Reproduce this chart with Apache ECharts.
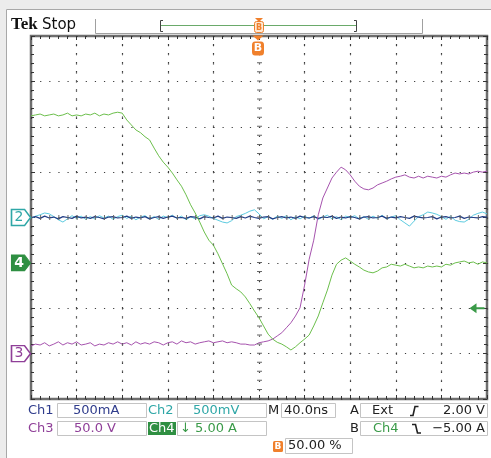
<!DOCTYPE html>
<html><head><meta charset="utf-8">
<script src="https://cdn.jsdelivr.net/npm/echarts@6/dist/echarts.min.js"></script>
<style>html,body{margin:0;padding:0;background:#fff}#c{width:491px;height:458px}</style>
</head><body><div id="c"></div>
<script>
// Sample times (ns), 40 ns/div, trigger at 0
const timeNs = [-200,-196,-192,-188,-184,-180,-176,-172,-168,-164,
-160,-156,-152,-148,-144,-140,-136,-132,-128,-124,
-120,-116,-112,-108,-104,-100,-96,-92,-88,-84,
-80,-76,-72,-68,-64,-60,-56,-52,-48,-44,
-40,-36,-32,-28,-24,-20,-16,-12,-8,-4,
0,4,8,12,16,20,24,28,32,36,
40,44,48,52,56,60,64,68,72,76,
80,84,88,92,96,100,104,108,112,116,
120,124,128,132,136,140,144,148,152,156,
160,164,168,172,176,180,184,188,192,196,200];

// Trace positions in screen divisions (centre = 0)
const ch1Div = [0.00,0.02,-0.02,0.03,-0.01,0.01,-0.03,0.02,0.00,-0.02,
0.03,-0.01,0.01,-0.02,0.02,0.00,-0.03,0.01,0.02,-0.01,
0.00,0.03,-0.02,0.01,-0.01,0.02,-0.03,0.00,0.02,-0.02,
0.01,0.03,-0.01,0.00,-0.02,0.02,0.01,-0.03,0.02,0.00,
-0.01,0.03,-0.02,0.01,0.00,-0.02,0.02,-0.01,0.03,0.00,
-0.02,0.01,0.02,-0.03,0.00,0.02,-0.01,0.01,-0.02,0.03,
0.00,-0.01,0.02,-0.02,0.01,0.00,0.03,-0.02,0.01,-0.01,
0.02,0.00,-0.03,0.01,0.02,-0.01,0.00,0.03,-0.02,0.01,
-0.01,0.02,0.00,-0.02,0.03,0.01,-0.01,0.00,0.02,-0.03,
0.01,0.02,-0.01,0.00,0.03,-0.02,0.01,0.00,-0.01,0.02,0.01];

const ch2Div = [-0.02,0.03,0.06,0.10,0.08,0.02,-0.05,-0.10,-0.03,0.04,
-0.02,0.03,-0.04,0.02,-0.03,0.04,-0.01,0.03,-0.04,0.02,
0.05,-0.02,0.03,-0.05,0.01,0.04,-0.03,0.02,-0.04,0.03,
0.00,0.05,-0.02,0.03,-0.05,0.02,-0.03,0.04,0.06,0.03,
-0.02,-0.06,-0.10,-0.12,-0.07,0.02,0.05,0.09,0.14,0.17,
0.08,-0.03,0.02,-0.04,0.03,-0.02,0.04,-0.05,0.02,-0.03,
0.03,-0.02,0.04,-0.04,0.01,0.05,-0.03,0.02,-0.05,0.03,
0.00,0.04,-0.03,0.02,-0.04,0.03,-0.02,0.05,-0.03,0.01,
0.04,-0.05,-0.12,-0.19,-0.08,0.02,0.06,0.12,0.10,0.07,
0.02,-0.04,0.03,-0.06,-0.09,-0.10,-0.04,0.05,0.09,0.12,0.08];

const ch3Div = [-2.83,-2.79,-2.81,-2.76,-2.83,-2.79,-2.74,-2.81,-2.76,-2.79,
-2.74,-2.81,-2.79,-2.76,-2.83,-2.79,-2.81,-2.76,-2.79,-2.74,
-2.79,-2.76,-2.81,-2.74,-2.79,-2.76,-2.79,-2.74,-2.76,-2.81,
-2.76,-2.74,-2.79,-2.72,-2.76,-2.74,-2.79,-2.76,-2.74,-2.72,
-2.76,-2.74,-2.72,-2.76,-2.74,-2.76,-2.79,-2.79,-2.81,-2.81,
-2.76,-2.74,-2.72,-2.68,-2.61,-2.54,-2.43,-2.32,-2.17,-1.99,
-1.49,-0.92,-0.50,0.06,0.43,0.65,0.87,1.00,1.11,1.05,
0.94,0.80,0.69,0.63,0.61,0.65,0.72,0.76,0.80,0.85,
0.89,0.91,0.94,0.89,0.87,0.91,0.87,0.91,0.89,0.87,
0.91,0.89,0.94,0.98,0.96,0.98,0.96,1.00,1.02,1.00,1.02];

const ch4Div = [2.24,2.26,2.28,2.24,2.26,2.28,2.24,2.26,2.30,2.24,
2.26,2.24,2.28,2.26,2.30,2.24,2.28,2.26,2.30,2.32,
2.30,2.15,2.04,1.93,1.87,1.78,1.71,1.53,1.36,1.22,
1.11,0.98,0.83,0.69,0.50,0.28,0.10,-0.10,-0.32,-0.50,
-0.61,-0.80,-1.02,-1.24,-1.49,-1.57,-1.64,-1.75,-1.90,-2.06,
-2.21,-2.39,-2.57,-2.68,-2.75,-2.79,-2.85,-2.92,-2.85,-2.76,
-2.68,-2.59,-2.39,-2.17,-1.88,-1.60,-1.27,-1.03,-0.94,-0.89,
-0.96,-1.03,-1.09,-1.16,-1.20,-1.22,-1.18,-1.11,-1.09,-1.03,
-1.05,-1.07,-1.03,-1.07,-1.11,-1.09,-1.11,-1.07,-1.09,-1.07,
-1.09,-1.03,-1.05,-1.00,-0.98,-0.96,-1.00,-0.98,-1.03,-0.98,-1.00];

// Ground / trigger levels (divisions) and axis ranges
const ch2Ground = 0;
const ch4Ground = -1;
const ch3Ground = -3;
const ch4TrigLevel = -2;
const triggerTime = 0;
const timeRange = [-200, 200];
const divRange = [-4, 4];
const timeDivLines = [-160, -120, -80, -40, 40, 80, 120, 160];

// Readout texts
const row1Labels = ['Ch1', '500mA', 'Ch2', '500mV', 'M', '40.0ns', 'A', 'Ext', '2.00 V'];
const row2Labels = ['Ch3', '50.0 V', 'Ch4', '↓ 5.00 A', 'B', 'Ch4', '−5.00 A'];
const row3Labels = ['50.00 %'];

const COL1 = '#2f3c8c', COL2 = '#2fa7a7', COL3 = '#8f3f98', COL4 = '#3a9a48';
const TR1 = '#243f86', TR2 = '#5ccbe0', TR3 = '#a653ae', TR4 = '#6cbf4c';
const ORANGE = '#f0802c';
const FONT = '13px "DejaVu Sans"';
const GRIDC = '#3c3c3c';

const pairs = arr => timeNs.map((t, i) => [t, arr[i]]);

const chart = echarts.init(document.getElementById('c'), null, {renderer: 'canvas'});

const xBase = {type:'value', min:timeRange[0], max:timeRange[1], interval:40,
  axisLabel:{show:false}, axisLine:{show:false, onZero:false},
  axisTick:{show:true, inside:true, length:4, lineStyle:{color:'#333', width:1}},
  minorTick:{show:true, splitNumber:5, length:3, lineStyle:{color:'#333', width:1}},
  splitLine:{show:false}};
const yBase = {type:'value', min:divRange[0], max:divRange[1], interval:1,
  axisLabel:{show:false}, axisLine:{show:false, onZero:false},
  axisTick:{show:true, inside:true, length:4, lineStyle:{color:'#333', width:1}},
  minorTick:{show:true, splitNumber:5, length:3, lineStyle:{color:'#333', width:1}},
  splitLine:{show:false}};

const txt = (x, y, text, fill, extra) => Object.assign({type:'text', x, y, silent:true,
  style:Object.assign({text, fill, font:FONT, textAlign:'left', textVerticalAlign:'middle', align:'left', verticalAlign:'middle'}, extra || {})});
const box = (x, y, w, h) => ({type:'rect', silent:true, shape:{x, y, width:w, height:h}, style:{fill:null, stroke:'#c4c4c4', lineWidth:1}});
const pl = (points, stroke, lw) => ({type:'polyline', silent:true, shape:{points}, style:{fill:null, stroke, lineWidth:lw || 1}});

const option = {
  animation:false,
  backgroundColor:'#ffffff',
  grid:{left:31, right:4, top:36, bottom:59, show:true, borderColor:'#6e6e6e', borderWidth:2.5, containLabel:false, outerBoundsMode:'none'},
  xAxis:[
    Object.assign({}, xBase, {position:'bottom', splitLine:{show:true, lineStyle:{color:GRIDC, width:1.2, type:[1.2, 7.875]}}}),
    Object.assign({}, xBase, {position:'top'})
  ],
  yAxis:[
    Object.assign({}, yBase, {position:'left', splitLine:{show:true, lineStyle:{color:GRIDC, width:1.2, type:[1.2, 7.92]}}}),
    Object.assign({}, yBase, {position:'right'})
  ],
  series:[
    {type:'line', name:'centre', data:[], z:1, silent:true,
      markLine:{silent:true, symbol:'none', animation:false, label:{show:false},
        data:[
          {xAxis:triggerTime, lineStyle:{type:[1, 8.075], width:5, color:'#666'}},
          {yAxis:0, lineStyle:{type:[1, 8.12], width:5, color:'#666'}}
        ].concat(timeDivLines.map(t => ({xAxis:t, lineStyle:{type:[1.2, 7.875], width:1.2, color:GRIDC}})))}},
    {type:'line', name:'Ch2', data:pairs(ch2Div), showSymbol:false, symbol:'none', z:2,
      lineStyle:{color:TR2, width:1}, itemStyle:{color:TR2},
      markPoint:{silent:true, animation:false,
        data:[{coord:[timeRange[0], ch2Ground], symbol:'path://M0,0 L13,0 L19,8 L13,16 L0,16 Z', symbolSize:[19,16], symbolOffset:[-10,0],
          itemStyle:{color:'#fff', borderColor:COL2, borderWidth:1.5},
          label:{show:true, formatter:'2', color:COL2, fontSize:14, fontFamily:'DejaVu Sans', offset:[-2,0]}}]}},
    {type:'line', name:'Ch1', data:pairs(ch1Div), showSymbol:false, symbol:'none', z:3,
      lineStyle:{color:TR1, width:1.2}, itemStyle:{color:TR1}},
    {type:'line', name:'Ch3', data:pairs(ch3Div), showSymbol:false, symbol:'none', z:4,
      lineStyle:{color:TR3, width:1}, itemStyle:{color:TR3},
      markPoint:{silent:true, animation:false,
        data:[{coord:[timeRange[0], ch3Ground], symbol:'path://M0,0 L13,0 L19,8 L13,16 L0,16 Z', symbolSize:[19,16], symbolOffset:[-10,0],
          itemStyle:{color:'#fff', borderColor:COL3, borderWidth:1.5},
          label:{show:true, formatter:'3', color:COL3, fontSize:14, fontFamily:'DejaVu Sans', offset:[-2,0]}}]}},
    {type:'line', name:'Ch4', data:pairs(ch4Div), showSymbol:false, symbol:'none', z:5,
      lineStyle:{color:TR4, width:1}, itemStyle:{color:TR4},
      markPoint:{silent:true, animation:false,
        data:[
          {coord:[timeRange[0], ch4Ground], symbol:'path://M0,0 L13,0 L19,8 L13,16 L0,16 Z', symbolSize:[19,16], symbolOffset:[-10,0],
            itemStyle:{color:'#2f8f42', borderColor:'#2f8f42', borderWidth:1},
            label:{show:true, formatter:'4', color:'#fff', fontSize:14, fontWeight:'bold', fontFamily:'DejaVu Sans', offset:[-2,0]}},
          {coord:[timeRange[1], ch4TrigLevel], symbol:'path://M0,5 L7,0 L7,4 L15,4 L15,6 L7,6 L7,10 Z', symbolSize:[15,10], symbolOffset:[-10,0],
            itemStyle:{color:COL4}, label:{show:false}},
          {coord:[triggerTime, divRange[1]], symbol:'path://M0,0 L10,0 L5,5 Z', symbolSize:[11,5], symbolOffset:[-1,2],
            itemStyle:{color:ORANGE}, label:{show:false}},
          {coord:[triggerTime, divRange[1]], symbol:'roundRect', symbolSize:[12,14], symbolOffset:[-1,12.5],
            itemStyle:{color:ORANGE},
            label:{show:true, formatter:'B', color:'#fff', fontSize:11, fontWeight:'bold', fontFamily:'DejaVu Sans'}}
        ]}}
  ],
  graphic:{elements:[
    {type:'rect', silent:true, z:-10, shape:{x:0, y:0, width:491, height:9}, style:{fill:'#ececec'}},
    {type:'rect', silent:true, z:-10, shape:{x:0, y:0, width:6, height:458}, style:{fill:'#ececec'}},
    pl([[6.5,458],[6.5,9.5],[491,9.5]], '#a8a8a8', 1),
    txt(11, 25, 'Tek', '#111', {font:'bold 17px "Liberation Serif"'}),
    txt(42, 25, 'Stop', '#111', {font:'15px "DejaVu Sans"'}),
    pl([[95.5,19],[95.5,33.5],[422.5,33.5],[422.5,19]], '#a0a0a0', 1),
    pl([[163,20.5],[160.5,20.5],[160.5,31.5],[163,31.5]], '#444', 1),
    pl([[354,20.5],[356.5,20.5],[356.5,31.5],[354,31.5]], '#444', 1),
    pl([[161,25.5],[356,25.5]], '#6aaa6a', 1),
    {type:'polygon', silent:true, shape:{points:[[255,18],[263,18],[259,22]]}, style:{fill:ORANGE}},
    {type:'rect', silent:true, shape:{x:254.5, y:21.5, width:9, height:11, r:2}, style:{fill:'#fde8d4', stroke:ORANGE, lineWidth:1}},
    txt(259, 27.5, 'B', ORANGE, {font:'bold 8px "DejaVu Sans"', textAlign:'center', align:'center'}),

    // readout row 1
    txt(28, 410.5, row1Labels[0], COL1),
    box(57.5, 403.5, 89, 14),
    txt(73, 410.5, row1Labels[1], COL1),
    txt(148, 410.5, row1Labels[2], COL2),
    box(177.5, 403.5, 89, 14),
    txt(193, 410.5, row1Labels[3], COL2),
    txt(268, 410.5, row1Labels[4], '#222'),
    box(281.5, 403.5, 54, 14),
    txt(284, 410.5, row1Labels[5], '#222'),
    txt(350, 410.5, row1Labels[6], '#222'),
    box(360.5, 403.5, 127, 14),
    txt(372, 410.5, row1Labels[7], '#222'),
    pl([[410,415.5],[413,415.5],[415,406.5],[418.5,406.5]], '#222', 1.6),
    txt(485, 410.5, row1Labels[8], '#222', {textAlign:'right', align:'right'}),

    // readout row 2
    txt(28, 428.5, row2Labels[0], COL3),
    box(57.5, 421.5, 89, 14),
    txt(74, 428.5, row2Labels[1], COL3),
    {type:'rect', silent:true, shape:{x:148, y:422, width:28, height:13}, style:{fill:'#2f8f42'}},
    txt(149, 428.5, row2Labels[2], '#fff'),
    box(177.5, 421.5, 89, 14),
    txt(180, 428.5, row2Labels[3], COL4),
    txt(350, 428.5, row2Labels[4], '#222'),
    box(360.5, 421.5, 127, 14),
    txt(373, 428.5, row2Labels[5], COL4),
    pl([[412,424.5],[415.5,424.5],[417.5,433],[421,433]], '#222', 1.6),
    txt(485, 428.5, row2Labels[6], '#222', {textAlign:'right', align:'right'}),

    // readout row 3
    {type:'rect', silent:true, shape:{x:273, y:441, width:10, height:11, r:1.5}, style:{fill:ORANGE}},
    txt(278, 446.5, 'B', '#fff', {font:'bold 9px "DejaVu Sans"', textAlign:'center', align:'center'}),
    box(285.5, 438.5, 67, 15),
    txt(288, 446, row3Labels[0], '#222')
  ]}
};
chart.setOption(option);
</script>
</body></html>
